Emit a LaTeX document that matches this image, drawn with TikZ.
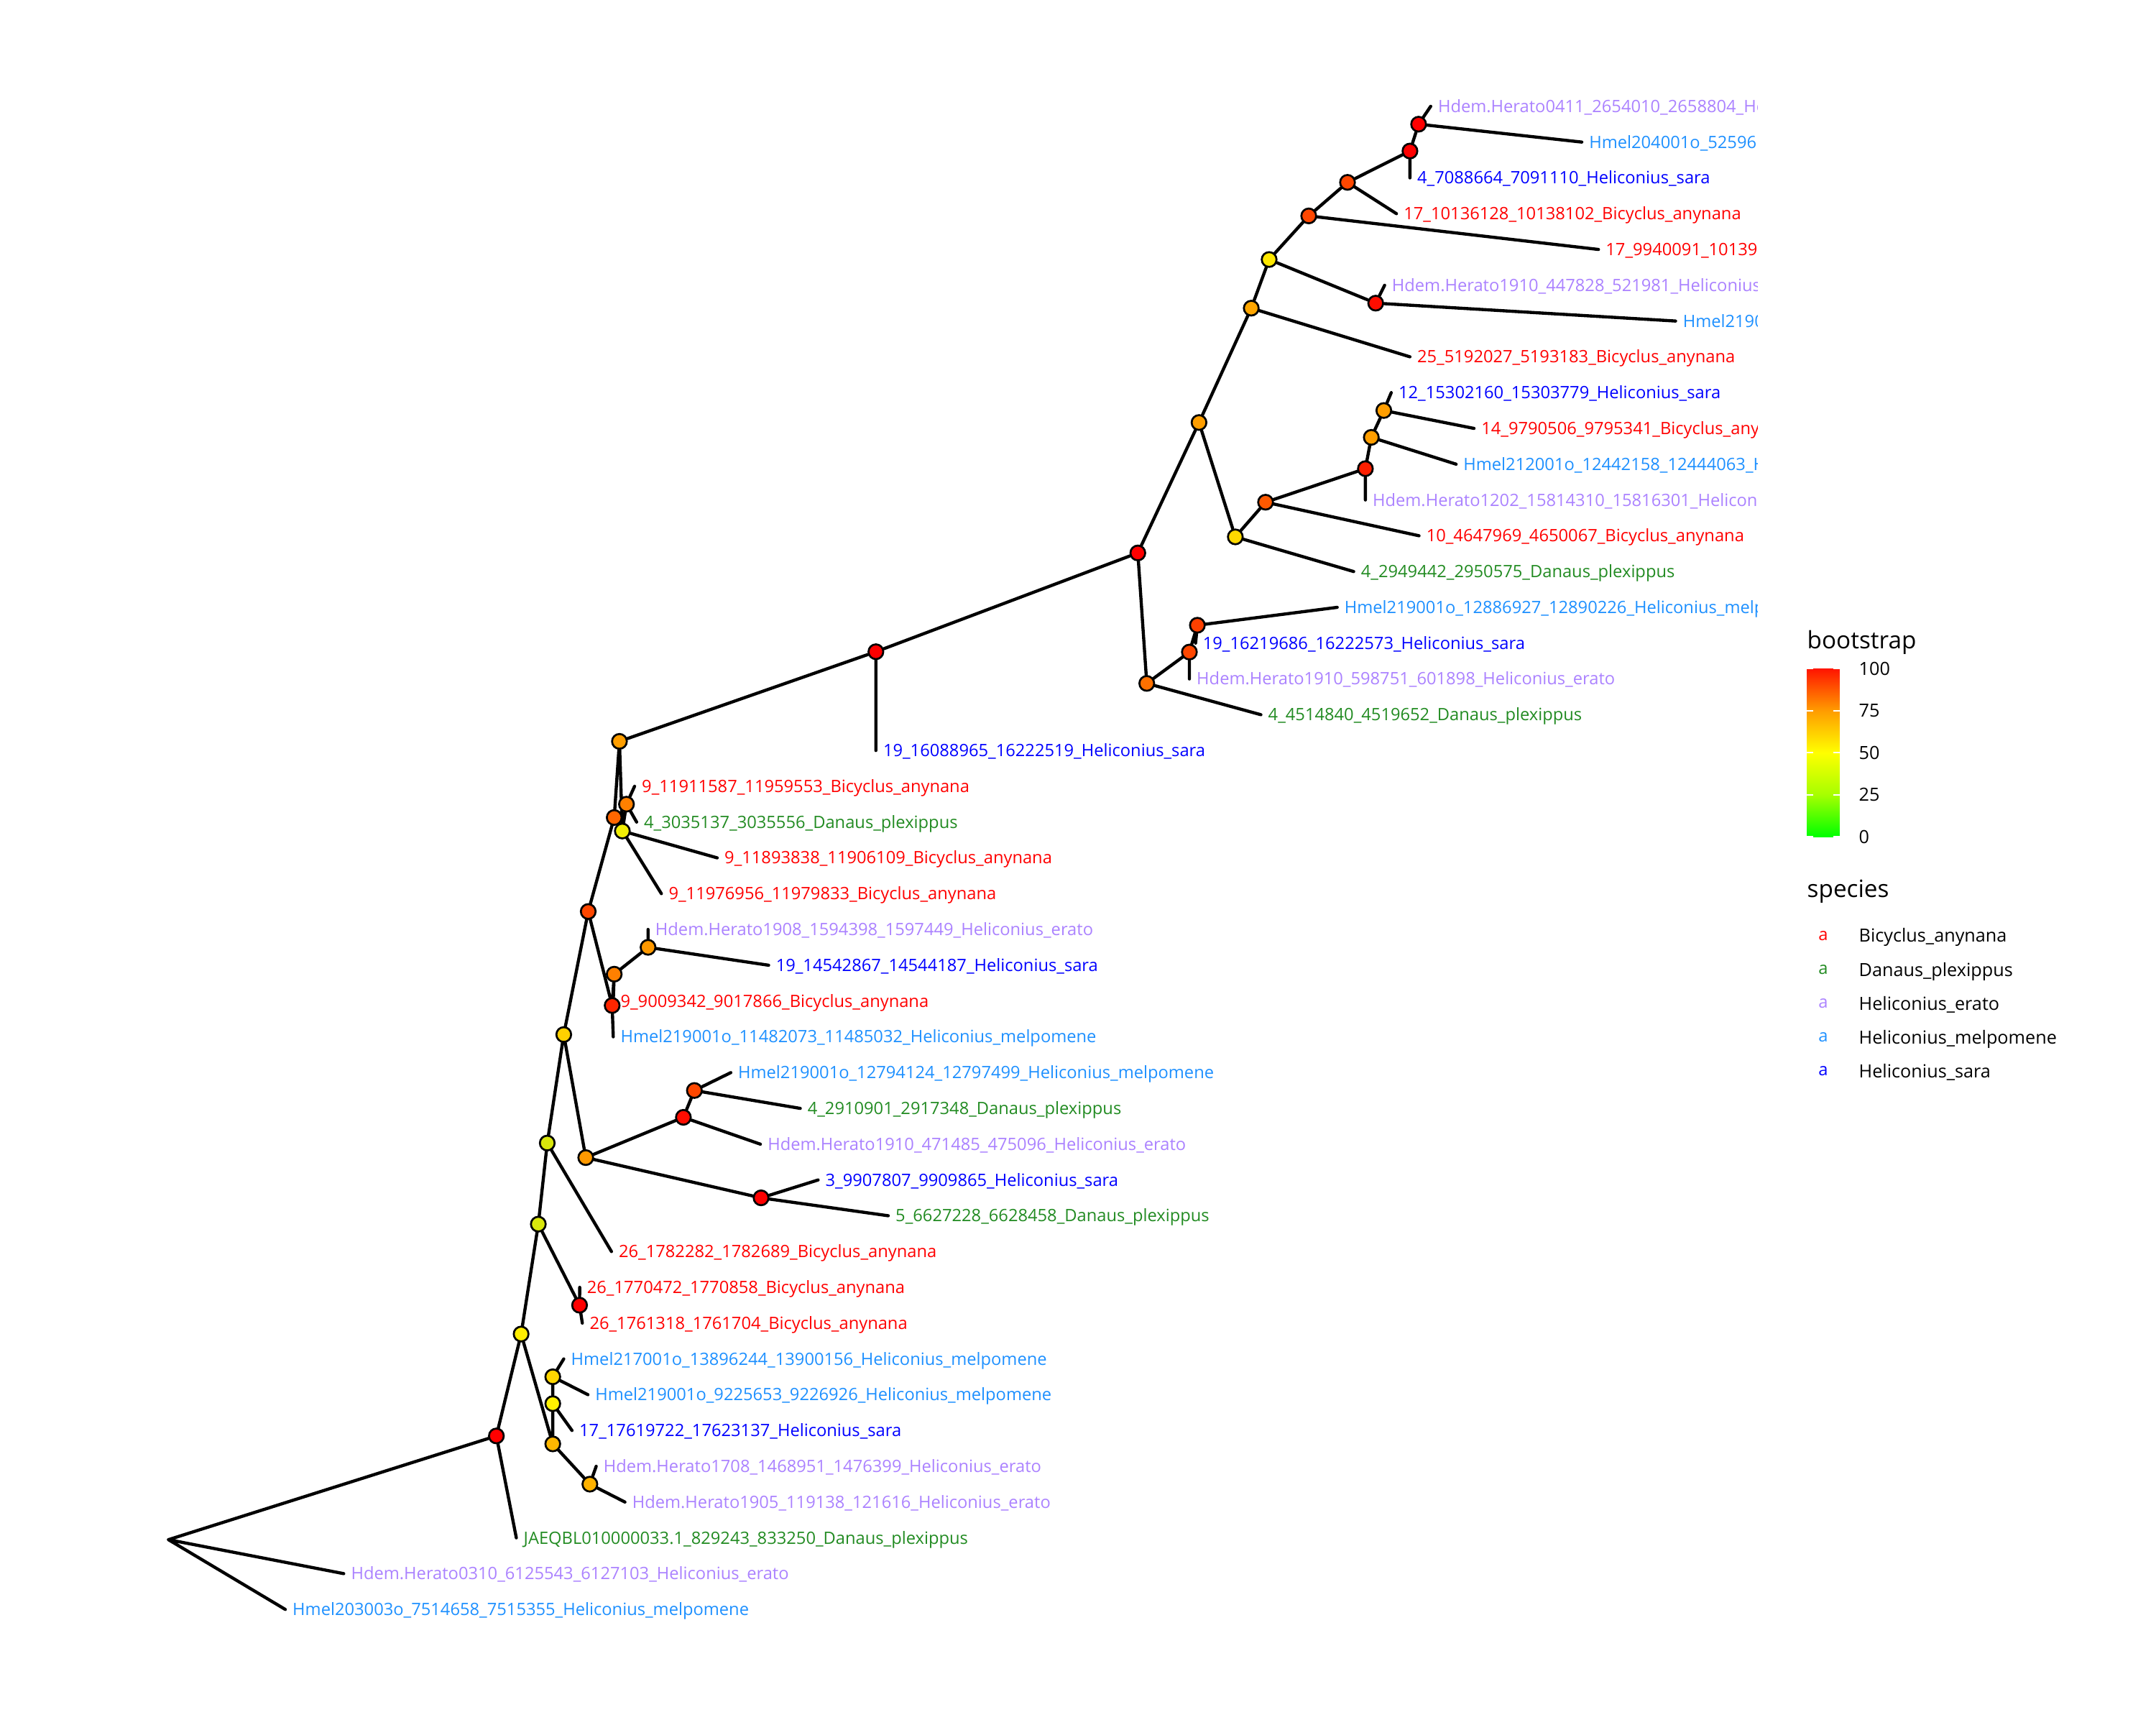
\documentclass[tikz,border=0pt]{standalone}
\usepackage{fontspec}
\setmainfont{Open Sans}
\usetikzlibrary{backgrounds}

\definecolor{bicyclus}{HTML}{FF0000}
\definecolor{danaus}{HTML}{228B22}
\definecolor{erato}{HTML}{AB82FF}
\definecolor{melpomene}{HTML}{1E90FF}
\definecolor{sara}{HTML}{0000FF}
\definecolor{bszero}{HTML}{00FF00}
\definecolor{bsquarter}{HTML}{A6FF00}
\definecolor{bshalf}{HTML}{FFFF00}
\definecolor{bsthreeq}{HTML}{FF9C00}
\definecolor{bsfull}{HTML}{FF1400}
\pgfdeclareverticalshading{bsbar}{100bp}{color(0bp)=(bszero); color(25bp)=(bszero);
  color(37.5bp)=(bsquarter); color(50bp)=(bshalf); color(62.5bp)=(bsthreeq);
  color(75bp)=(bsfull); color(100bp)=(bsfull)}

\newcommand{\tipsize}{\fontsize{7.05pt}{8pt}\selectfont}
\newcommand{\legsize}{\fontsize{7.5pt}{9pt}\selectfont}
\newcommand{\titlesize}{\fontsize{9.9pt}{12pt}\selectfont}

\begin{document}
\begin{tikzpicture}[x=0.02cm, y=-0.02cm,
  branch/.style={line width=1.3pt, line cap=round},
  boot/.style={circle, draw=black, line width=0.8pt, minimum size=0.215cm, inner sep=0pt, fill=#1},
  tiplab/.style={anchor=base west, inner sep=0pt, xshift=0.1cm, yshift=-2.5pt, font=\tipsize, text=#1},
  leglab/.style={anchor=base west, inner sep=0pt, yshift=-2.7pt, font=\legsize},
  legtitle/.style={anchor=base west, inner sep=0pt, font=\titlesize}]
\useasboundingbox (0,0) rectangle (1568,1254);

% Tree: y counts the rows of tips
\begin{scope}[shift={(0,77.3)}, y=-0.5206cm]
  \begin{scope}
    \clip (0,-3) rectangle (1278,46);
    % Tips and their labels
    \path (1040.5,0) coordinate (t0) node[tiplab=erato] (l0) {Hdem.Herato0411\_2654010\_2658804\_Heliconius\_erato};
    \path (1150.4,1) coordinate (t1) node[tiplab=melpomene] (l1) {Hmel204001o\_52596};
    \path (1025.4,2) coordinate (t2) node[tiplab=sara] (l2) {4\_7088664\_7091110\_Heliconius\_sara};
    \path (1015.6,3) coordinate (t3) node[tiplab=bicyclus] (l3) {17\_10136128\_10138102\_Bicyclus\_anynana};
    \path (1162.5,4) coordinate (t4) node[tiplab=bicyclus] (l4) {17\_9940091\_10139};
    \path (1007,5) coordinate (t5) node[tiplab=erato] (l5) {Hdem.Herato1910\_447828\_521981\_Heliconius\_erato};
    \path (1218.6,6) coordinate (t6) node[tiplab=melpomene] (l6) {Hmel219001o};
    \path (1025.4,7) coordinate (t7) node[tiplab=bicyclus] (l7) {25\_5192027\_5193183\_Bicyclus\_anynana};
    \path (1011.8,8) coordinate (t8) node[tiplab=sara] (l8) {12\_15302160\_15303779\_Heliconius\_sara};
    \path (1072,9) coordinate (t9) node[tiplab=bicyclus] (l9) {14\_9790506\_9795341\_Bicyclus\_anynana};
    \path (1059,10) coordinate (t10) node[tiplab=melpomene] (l10) {Hmel212001o\_12442158\_12444063\_Heliconius\_melpomene};
    \path (993,11) coordinate (t11) node[tiplab=erato] (l11) {Hdem.Herato1202\_15814310\_15816301\_Heliconius\_erato};
    \path (1032,12) coordinate (t12) node[tiplab=bicyclus] (l12) {10\_4647969\_4650067\_Bicyclus\_anynana};
    \path (984.5,13) coordinate (t13) node[tiplab=danaus] (l13) {4\_2949442\_2950575\_Danaus\_plexippus};
    \path (972.5,14) coordinate (t14) node[tiplab=melpomene] (l14) {Hmel219001o\_12886927\_12890226\_Heliconius\_melpomene};
    \path (869.5,15) coordinate (t15) node[tiplab=sara] (l15) {19\_16219686\_16222573\_Heliconius\_sara};
    \path (865,16) coordinate (t16) node[tiplab=erato] (l16) {Hdem.Herato1910\_598751\_601898\_Heliconius\_erato};
    \path (917,17) coordinate (t17) node[tiplab=danaus] (l17) {4\_4514840\_4519652\_Danaus\_plexippus};
    \path (637,18) coordinate (t18) node[tiplab=sara] (l18) {19\_16088965\_16222519\_Heliconius\_sara};
    \path (461.5,19) coordinate (t19) node[tiplab=bicyclus] (l19) {9\_11911587\_11959553\_Bicyclus\_anynana};
    \path (463,20) coordinate (t20) node[tiplab=danaus] (l20) {4\_3035137\_3035556\_Danaus\_plexippus};
    \path (521.6,21) coordinate (t21) node[tiplab=bicyclus] (l21) {9\_11893838\_11906109\_Bicyclus\_anynana};
    \path (481,22) coordinate (t22) node[tiplab=bicyclus] (l22) {9\_11976956\_11979833\_Bicyclus\_anynana};
    \path (471.3,23) coordinate (t23) node[tiplab=erato] (l23) {Hdem.Herato1908\_1594398\_1597449\_Heliconius\_erato};
    \path (559,24) coordinate (t24) node[tiplab=sara] (l24) {19\_14542867\_14544187\_Heliconius\_sara};
    \path (446,25) coordinate (t25) node[tiplab=bicyclus] (l25) {9\_9009342\_9017866\_Bicyclus\_anynana};
    \path (446,26) coordinate (t26) node[tiplab=melpomene] (l26) {Hmel219001o\_11482073\_11485032\_Heliconius\_melpomene};
    \path (531.5,27) coordinate (t27) node[tiplab=melpomene] (l27) {Hmel219001o\_12794124\_12797499\_Heliconius\_melpomene};
    \path (582,28) coordinate (t28) node[tiplab=danaus] (l28) {4\_2910901\_2917348\_Danaus\_plexippus};
    \path (553,29) coordinate (t29) node[tiplab=erato] (l29) {Hdem.Herato1910\_471485\_475096\_Heliconius\_erato};
    \path (595,30) coordinate (t30) node[tiplab=sara] (l30) {3\_9907807\_9909865\_Heliconius\_sara};
    \path (646,31) coordinate (t31) node[tiplab=danaus] (l31) {5\_6627228\_6628458\_Danaus\_plexippus};
    \path (444.7,32) coordinate (t32) node[tiplab=bicyclus] (l32) {26\_1782282\_1782689\_Bicyclus\_anynana};
    \path (421.6,33) coordinate (t33) node[tiplab=bicyclus] (l33) {26\_1770472\_1770858\_Bicyclus\_anynana};
    \path (423.5,34) coordinate (t34) node[tiplab=bicyclus] (l34) {26\_1761318\_1761704\_Bicyclus\_anynana};
    \path (410,35) coordinate (t35) node[tiplab=melpomene] (l35) {Hmel217001o\_13896244\_13900156\_Heliconius\_melpomene};
    \path (427.6,36) coordinate (t36) node[tiplab=melpomene] (l36) {Hmel219001o\_9225653\_9226926\_Heliconius\_melpomene};
    \path (416,37) coordinate (t37) node[tiplab=sara] (l37) {17\_17619722\_17623137\_Heliconius\_sara};
    \path (433.6,38) coordinate (t38) node[tiplab=erato] (l38) {Hdem.Herato1708\_1468951\_1476399\_Heliconius\_erato};
    \path (454.5,39) coordinate (t39) node[tiplab=erato] (l39) {Hdem.Herato1905\_119138\_121616\_Heliconius\_erato};
    \path (375.5,40) coordinate (t40) node[tiplab=danaus] (l40) {JAEQBL010000033.1\_829243\_833250\_Danaus\_plexippus};
    \path (250,41) coordinate (t41) node[tiplab=erato] (l41) {Hdem.Herato0310\_6125543\_6127103\_Heliconius\_erato};
    \path (207.5,42) coordinate (t42) node[tiplab=melpomene] (l42) {Hmel203003o\_7514658\_7515355\_Heliconius\_melpomene};
  \end{scope}

  % Internal nodes, filled by bootstrap
  \node[boot=red] (a0) at (1031.7,0.5) {};
  \node[boot=red] (a1) at (1025.4,1.25) {};
  \node[boot=red!72!yellow] (a2) at (980,2.125) {};
  \node[boot=red!72!yellow] (a3) at (951.8,3.0625) {};
  \node[boot=red!95!yellow] (b0) at (1000.5,5.5) {};
  \node[boot=red!9!yellow] (a4) at (923,4.2813) {};
  \node[boot=red!35!yellow] (a5) at (910,5.6406) {};
  \node[boot=red!38!yellow] (c0) at (1006.4,8.5) {};
  \node[boot=red!38!yellow] (c1) at (997.3,9.25) {};
  \node[boot=red!88!yellow] (c2) at (993,10.125) {};
  \node[boot=red!65!yellow] (c3) at (920.4,11.0625) {};
  \node[boot=red!15!yellow] (c4) at (898.4,12.0313) {};
  \node[boot=red!38!yellow] (a6) at (872,8.8359) {};
  \node[boot=red!75!yellow] (d0) at (870.8,14.5) {};
  \node[boot=red!72!yellow] (d1) at (865,15.25) {};
  \node[boot=red!56!yellow] (d2) at (834,16.125) {};
  \node[boot=red] (e0) at (827.5,12.4805) {};
  \node[boot=red] (e1) at (637,15.2402) {};
  \node[boot=red!50!yellow] (f0) at (455.6,19.5) {};
  \node[boot=yellow!94!green] (f1) at (452.6,20.25) {};
  \node[boot=red!38!yellow] (e2) at (450.5,17.7451) {};
  \node[boot=red!60!yellow] (e3) at (446.7,19.8726) {};
  \node[boot=red!40!yellow] (g0) at (471.3,23.5) {};
  \node[boot=red!50!yellow] (g1) at (446.7,24.25) {};
  \node[boot=red!85!yellow] (g2) at (445.2,25.125) {};
  \node[boot=red!72!yellow] (e4) at (427.8,22.4988) {};
  \node[boot=red!72!yellow] (h0) at (505,27.5) {};
  \node[boot=red!95!yellow] (h1) at (497,28.25) {};
  \node[boot=red] (h2) at (553.5,30.5) {};
  \node[boot=red!40!yellow] (h3) at (426,29.375) {};
  \node[boot=red!18!yellow] (e5) at (410,25.9369) {};
  \node[boot=yellow!85!green] (e6) at (398,28.9684) {};
  \node[boot=red] (i0) at (421.5,33.5) {};
  \node[boot=yellow!85!green] (e7) at (391.5,31.2342) {};
  \node[boot=red!16!yellow] (j0) at (402,35.5) {};
  \node[boot=yellow] (j1) at (402,36.25) {};
  \node[boot=red!30!yellow] (j2) at (429,38.5) {};
  \node[boot=red!28!yellow] (j3) at (402,37.375) {};
  \node[boot=red!7!yellow] (e8) at (379,34.3046) {};
  \node[boot=red] (e9) at (361,37.1523) {};
  \coordinate (root) at (122.5,40.0508);

  % Branches
  \begin{scope}[on background layer]
    \draw[branch] (a0) -- (t0) (a0) -- (t1) (a1) -- (a0) (a1) -- (t2)
      (a2) -- (a1) (a2) -- (t3) (a3) -- (a2) (a3) -- (t4)
      (b0) -- (t5) (b0) -- (t6) (a4) -- (a3) (a4) -- (b0)
      (a5) -- (a4) (a5) -- (t7);
    \draw[branch] (c0) -- (t8) (c0) -- (t9) (c1) -- (c0) (c1) -- (t10)
      (c2) -- (c1) (c2) -- (t11) (c3) -- (c2) (c3) -- (t12)
      (c4) -- (c3) (c4) -- (t13) (a6) -- (a5) (a6) -- (c4);
    \draw[branch] (d0) -- (t14) (d0) -- (t15) (d1) -- (d0) (d1) -- (t16)
      (d2) -- (d1) (d2) -- (t17) (e0) -- (a6) (e0) -- (d2)
      (e1) -- (e0) (e1) -- (t18);
    \draw[branch] (f0) -- (t19) (f0) -- (t20) (f1) -- (f0) (f1) -- (t21)
      (e2) -- (e1) (e2) -- (f1) (e3) -- (e2) (e3) -- (t22);
    \draw[branch] (g0) -- (t23) (g0) -- (t24) (g1) -- (g0) (g1) -- (t25)
      (g2) -- (g1) (g2) -- (t26) (e4) -- (e3) (e4) -- (g2);
    \draw[branch] (h0) -- (t27) (h0) -- (t28) (h1) -- (h0) (h1) -- (t29)
      (h2) -- (t30) (h2) -- (t31) (h3) -- (h1) (h3) -- (h2)
      (e5) -- (e4) (e5) -- (h3) (e6) -- (e5) (e6) -- (t32);
    \draw[branch] (i0) -- (t33) (i0) -- (t34) (e7) -- (e6) (e7) -- (i0);
    \draw[branch] (j0) -- (t35) (j0) -- (t36) (j1) -- (j0) (j1) -- (t37)
      (j2) -- (t38) (j2) -- (t39) (j3) -- (j1) (j3) -- (j2)
      (e8) -- (e7) (e8) -- (j3) (e9) -- (e8) (e9) -- (t40);
    \draw[branch] (root) -- (e9) (root) -- (t41) (root) -- (t42);
  \end{scope}
\end{scope}

% Legend: bootstrap colour bar
\node[legtitle] (bstitle) at (1314,471.5) {bootstrap};
\shade[shading=bsbar] (1314,608.5) rectangle (1338,486.2);
\foreach \v/\yy in {100/486.2, 75/516.8, 50/547.3, 25/577.9, 0/608.5} {
  \draw[white, line width=0.5pt] (1314,\yy) -- ++(4.8,0) (1338,\yy) -- ++(-4.8,0);
  \node[leglab] (bs\v) at (1351.6,\yy) {\v};
}

% Legend: species
\node[legtitle] (sptitle) at (1314,652.5) {species};
\foreach \col/\name [count=\k from 0] in {bicyclus/Bicyclus\_anynana, danaus/Danaus\_plexippus,
    erato/Heliconius\_erato, melpomene/Heliconius\_melpomene, sara/Heliconius\_sara} {
  \node[font=\tipsize, text=\col, inner sep=0pt] (key\k) at (1326,{680.4+24.67*\k}) {a};
  \node[leglab] (sp\k) at (1351.6,{680.4+24.67*\k}) {\name};
}
\end{tikzpicture}
\end{document}
